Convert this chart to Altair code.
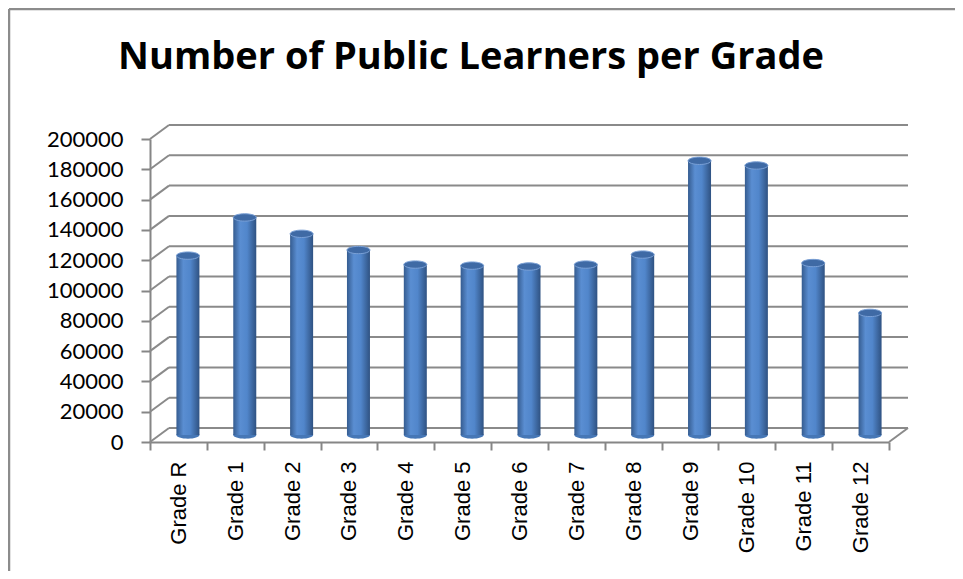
import altair as alt
import pandas as pd

grades = ["Grade R", "Grade 1", "Grade 2", "Grade 3", "Grade 4", "Grade 5", "Grade 6",
          "Grade 7", "Grade 8", "Grade 9", "Grade 10", "Grade 11", "Grade 12"]
learners = [118400, 143600, 132800, 122100, 112500, 111800, 111200,
            112500, 119100, 181000, 177900, 113500, 80600]
ticks = [0, 20000, 40000, 60000, 80000, 100000, 120000, 140000, 160000, 180000, 200000]
title_text = "Number of Public Learners per Grade"

W, H = 739, 303
DX, DY = 19, -14  # depth offset of the back wall

df = pd.DataFrame({"grade": grades, "learners": learners})
tdf = pd.DataFrame({"v": ticks})
one = pd.DataFrame({"v": [0]})

xenc = alt.X("grade:N", sort=grades, title=None,
             scale=alt.Scale(paddingInner=0, paddingOuter=0),
             axis=alt.Axis(labelAngle=-90, labelFont="Liberation Sans", labelFontSize=22,
                           labelColor="black", domainColor="#868686", domainWidth=2,
                           tickColor="#868686", tickWidth=2, tickSize=8, tickBand="extent",
                           labelPadding=11))
yscale = alt.Scale(domain=[0, 200000], nice=False)
yaxis = alt.Axis(values=ticks, format="d", labelFont="Lato", labelFontSize=22,
                 labelColor="black", domainColor="#868686", domainWidth=2,
                 tickColor="#868686", tickWidth=2, tickSize=9, labelPadding=18,
                 grid=False, title=None)

gray = "#8a8a8a"

grid = alt.Chart(tdf).mark_rule(color=gray, strokeWidth=2, yOffset=DY).encode(
    y=alt.Y("v:Q", scale=yscale, axis=yaxis),
    x=alt.value(DX), x2=alt.value(W + DX))
side = alt.Chart(tdf).mark_rule(color=gray, strokeWidth=2, y2Offset=DY).encode(
    y=alt.Y("v:Q", scale=yscale, axis=yaxis), y2="v:Q",
    x=alt.value(0), x2=alt.value(DX))
floor_r = alt.Chart(one).mark_rule(color=gray, strokeWidth=2, y2Offset=DY).encode(
    y=alt.Y("v:Q", scale=yscale, axis=yaxis), y2="v:Q",
    x=alt.value(W), x2=alt.value(W + DX))

# outer chart border (top and left edges; right and bottom run off the picture)
border_top = alt.Chart(one).mark_rule(color="#8c8c8c", strokeWidth=2.5).encode(
    x=alt.value(-141), x2=alt.value(820), y=alt.value(-130))
border_left = alt.Chart(one).mark_rule(color="#8c8c8c", strokeWidth=2.5).encode(
    x=alt.value(-141), y=alt.value(-130), y2=alt.value(460))

title = alt.Chart(one).mark_text(
    text=title_text, font="Open Sans", fontSize=38, fontWeight="bold", color="black",
    align="center", baseline="alphabetic").encode(
    x=alt.value(321), y=alt.value(-70))

ellipse = "M-1,0 A1,0.32 0 1,1 1,0 A1,0.32 0 1,1 -1,0 Z"
BW = 23
XO, YO = 9.5, -7

grad = alt.Gradient(gradient="linear", x1=0, x2=1, y1=0, y2=0, stops=[
    alt.GradientStop(offset=0, color="#355c90"),
    alt.GradientStop(offset=0.3, color="#5a8ed2"),
    alt.GradientStop(offset=0.6, color="#5186cb"),
    alt.GradientStop(offset=1, color="#2f5282")])

base = alt.Chart(df)
bottom = base.mark_point(shape=ellipse, filled=True, size=BW * BW, fill="#4677b6", opacity=1,
                         xOffset=XO, yOffset=YO).encode(
    x=xenc, y=alt.Y(datum=0, scale=yscale, axis=yaxis))
bars = base.mark_bar(size=BW, fill=grad, xOffset=XO, yOffset=YO).encode(
    x=xenc, y=alt.Y("learners:Q", scale=yscale, axis=yaxis))
tops = base.mark_point(shape=ellipse, filled=True, size=BW * BW, fill="#3f6aa5",
                       stroke="#7aa0d6", strokeWidth=1, opacity=1,
                       xOffset=XO, yOffset=YO).encode(
    x=xenc, y=alt.Y("learners:Q", scale=yscale, axis=yaxis))

chart = alt.layer(grid, side, floor_r, bottom, bars, tops, border_top, border_left, title).properties(
    width=W, height=H,
    autosize=alt.AutoSizeParams(type="none"),
    padding={"left": 142, "top": 131, "right": 66, "bottom": 129},
).configure(background="white", view=alt.ViewConfig(stroke=None))

chart.save("out.html", embed_options={"renderer": "svg", "actions": False})
